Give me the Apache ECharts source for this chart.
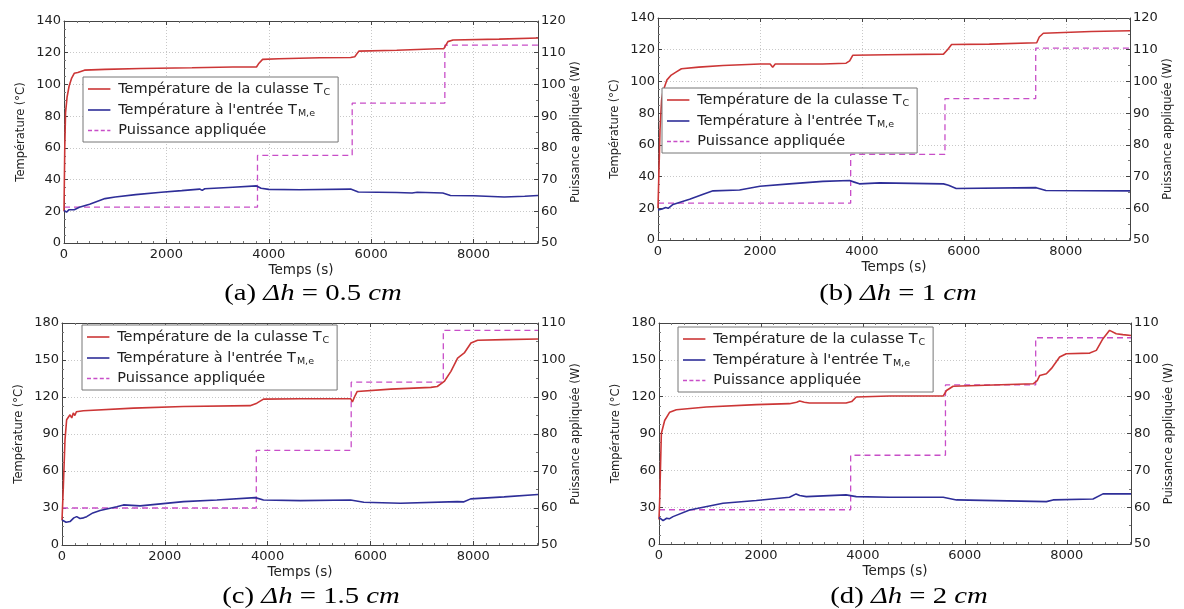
<!DOCTYPE html>
<html><head><meta charset="utf-8">
<script src="https://cdn.jsdelivr.net/npm/echarts@6/dist/echarts.min.js"></script>
<style>html,body{margin:0;padding:0;background:#fff}#c{width:1184px;height:609px}</style>
</head><body><div id="c"></div>
<script>
// ---------- data (time in s, temperature in °C, power in W) ----------
const tcA = [[0,20],[15,60],[30,82],[60,92],[100,99],[150,104],[200,107],[230,106],[270,107.5],[400,109],[800,109.5],[1500,110],[2500,110.5],[3300,111],[3760,111],[3800,113],[3880,115.8],[4200,116.2],[5000,116.8],[5600,117],[5680,117.5],[5760,121],[6500,121.6],[7300,122.5],[7420,122.6],[7500,127],[7600,128],[8500,128.6],[9260,129.3]];
const tmA = [[0,20.5],[50,19.5],[100,21],[200,21],[300,22.5],[500,24.5],[800,28],[1000,29],[1400,30.5],[1900,32],[2300,33],[2650,34],[2700,33.2],[2750,34.2],[3300,35.2],[3760,36],[3850,34.5],[4000,33.8],[4600,33.6],[5600,34],[5750,32.2],[6500,31.8],[6800,31.5],[6900,32],[7400,31.5],[7550,30],[8000,29.8],[8600,29],[9000,29.5],[9260,30]];
const pwA = [[0,61.3],[3780,77.6],[5630,94.1],[7440,112.4],[9260,112.4]];

const tcB = [[0,20],[20,45],[40,70],[70,88],[100,94],[176,101],[260,104],[360,106],[460,108],[800,109],[1275,110],[2000,111],[2200,111],[2250,109],[2300,111],[3230,111],[3690,111.5],[3760,113],[3820,116.5],[4500,116.8],[5600,117.2],[5680,120],[5760,123.3],[6500,123.5],[7430,124.4],[7480,128],[7560,130.4],[8500,131.5],[9260,132]];
const tmB = [[0,19],[80,19.5],[150,20.5],[200,20],[294,22.4],[620,25.7],[900,29],[1080,31],[1600,31.5],[2000,33.9],[2580,35.4],[3235,37],[3760,37.5],[3850,36.5],[3950,35.4],[4350,36],[5600,35.4],[5700,34.5],[5850,32.5],[7420,33],[7610,31.2],[9260,31]];
const pwB = [[0,61.6],[3780,77],[5630,94.6],[7410,110.5],[9260,110.5]];

const tcC = [[0,20],[26,47],[58,85],[90,101.5],[156,105.6],[190,103],[220,107],[250,105],[280,108],[415,108.8],[1390,111],[2360,112.3],[3660,113],[3790,115],[3920,118.3],[4640,118.6],[5615,118.6],[5650,116],[5700,121],[5744,124.5],[6395,126.4],[7176,127.8],[7300,128.5],[7436,132.6],[7566,140.8],[7696,151.6],[7826,155.7],[7956,163.8],[8086,166],[8606,166.5],[9260,167]];
const tmC = [[0,20.3],[80,18.5],[156,19],[230,22],[286,23],[350,21.5],[420,22],[480,23],[600,26],[740,27.9],[1065,31],[1195,32.5],[1520,31.7],[2364,35.2],[3013,36.5],[3760,38.4],[3920,36.5],[4636,36],[5614,36.5],[5872,34.7],[6587,33.8],[7690,35.2],[7820,35],[7950,37.4],[8600,39],[9260,41]];
const pwC = [[0,60],[3780,75.6],[5626,94],[7418,108],[9260,108]];

const tcD = [[0,20],[13,35],[46,90],[111,100.6],[210,107.4],[340,109.4],[928,111.6],[1908,113.5],[2560,114.3],[2700,115.5],[2760,116.4],[2850,115.5],[2950,114.8],[3670,114.8],[3780,116],[3870,119.7],[4520,120.5],[5575,120.5],[5640,125],[5770,128.5],[7340,130.5],[7420,133],[7470,137.3],[7600,138.7],[7700,143],[7860,152.3],[7990,155],[8450,155.5],[8580,157.7],[8710,167.2],[8840,174],[8970,171.2],[9100,170.5],[9260,169.8]];
const tmD = [[0,21.7],[80,19],[150,21],[200,20.5],[275,22.3],[600,27.7],[1255,33.2],[1908,35.4],[2560,38.1],[2690,40.8],[2760,39.5],[2890,38.6],[3670,40],[3870,38.6],[4520,38.1],[5575,38.1],[5836,35.9],[7600,34.5],[7730,35.9],[8515,36.7],[8710,40.8],[9260,40.8]];
const pwD = [[0,59.3],[3760,74.1],[5620,93.2],[7390,106],[9260,106]];

const tempRanges = [[0,140,20],[0,140,20],[0,180,30],[0,180,30]];
const powRanges  = [[50,120,10],[50,120,10],[50,110,10],[50,110,10]];
const timeRange = [0, 9260, 2000];
const captions = [['(a)','0.5'],['(b)','1'],['(c)','1.5'],['(d)','2']];
const names = ['Température de la culasse T_C', "Température à l'entrée T_M,e", 'Puissance appliquée'];
const legendLabels = {
  'Température de la culasse T_C': 'Température de la culasse T{sub|C}',
  "Température à l'entrée T_M,e": "Température à l'entrée T{sub|M,e}",
  'Puissance appliquée': 'Puissance appliquée'
};
const panels = [[tcA,tmA,pwA],[tcB,tmB,pwB],[tcC,tmC,pwC],[tcD,tmD,pwD]];

// ---------- layout ----------
const grids = [
  {left:64, top:21, width:474, height:222},
  {left:658, top:18, width:472, height:222},
  {left:62, top:323, width:476, height:222},
  {left:659, top:323, width:472, height:221}
];
const legendPos = [[83,77],[662,88],[82,325],[678,327]];
const captionPos = [[313,294],[898,294],[311,597],[909,597]];

const FONT = 'DejaVu Sans';
const axisCol = '#444';
const gridLine = {show:true, lineStyle:{color:'#c8c8c8', type:[1,2], width:1}};
const lblStyle = {color:'#222', fontFamily:FONT, fontSize:13};
const solidIcon = 'path://M0,0h28v2h-28z';
const dashIcon = 'path://M0,0h5v2h-5zM8,0h5v2h-5zM16,0h5v2h-5zM24,0h4v2h-4z';

const xAxes = [], yAxes = [], series = [], legends = [], graphics = [];
grids.forEach((g, i) => {
  xAxes.push({
    type:'value', gridIndex:i, position:'bottom', min:timeRange[0], max:timeRange[1], interval:timeRange[2],
    name:'Temps (s)', nameLocation:'middle', nameGap:20,
    nameTextStyle:{color:'#222', fontFamily:FONT, fontSize:13.5},
    axisLine:{show:true, onZero:false, lineStyle:{color:axisCol}},
    axisTick:{inside:true, length:4, lineStyle:{color:axisCol}},
    minorTick:{show:true, splitNumber:8, length:2, lineStyle:{color:'#777'}},
    axisLabel:{...lblStyle, margin:5, showMaxLabel:false, formatter: v => String(v)},
    splitLine:gridLine
  });
});
grids.forEach((g, i) => {
  xAxes.push({
    type:'value', gridIndex:i, position:'top', min:timeRange[0], max:timeRange[1], interval:timeRange[2],
    axisLine:{show:true, onZero:false, lineStyle:{color:axisCol}},
    axisTick:{inside:true, length:4, lineStyle:{color:axisCol}},
    minorTick:{show:true, splitNumber:8, length:2, lineStyle:{color:'#777'}},
    axisLabel:{show:false}, splitLine:{show:false}
  });
});
grids.forEach((g, i) => {
  const tr = tempRanges[i], pr = powRanges[i];
  yAxes.push({
    type:'value', gridIndex:i, position:'left', min:tr[0], max:tr[1], interval:tr[2],
    name:'Température (°C)', nameLocation:'middle', nameGap:37, nameRotate:90,
    nameTextStyle:{color:'#222', fontFamily:FONT, fontSize:11.5},
    axisLine:{show:true, onZero:false, lineStyle:{color:axisCol}},
    axisTick:{inside:true, length:4, lineStyle:{color:axisCol}},
    minorTick:{show:true, splitNumber:4, length:2, lineStyle:{color:'#777'}},
    axisLabel:{...lblStyle, margin:3},
    splitLine:gridLine
  });
  yAxes.push({
    type:'value', gridIndex:i, position:'right', min:pr[0], max:pr[1], interval:pr[2],
    name:'Puissance appliquée (W)', nameLocation:'middle', nameGap:30, nameRotate:90,
    nameTextStyle:{color:'#222', fontFamily:FONT, fontSize:11.5},
    axisLine:{show:true, onZero:false, lineStyle:{color:axisCol}},
    axisTick:{inside:true, length:4, lineStyle:{color:axisCol}},
    minorTick:{show:true, splitNumber:2, length:2, lineStyle:{color:'#777'}},
    axisLabel:{...lblStyle, margin:3},
    splitLine:{show:false}
  });
  const [tc, tm, pw] = panels[i];
  series.push({
    name:names[0], type:'line', xAxisIndex:i, yAxisIndex:2*i, data:tc,
    showSymbol:false, symbol:'none', lineStyle:{color:'#cc3636', width:1.6}, itemStyle:{color:'#cc3636'},
    z:3
  });
  series.push({
    name:names[1], type:'line', xAxisIndex:i, yAxisIndex:2*i, data:tm,
    showSymbol:false, symbol:'none', lineStyle:{color:'#2e2e98', width:1.6}, itemStyle:{color:'#2e2e98'},
    z:3
  });
  series.push({
    name:names[2], type:'line', step:'end', xAxisIndex:i, yAxisIndex:2*i+1, data:pw,
    showSymbol:false, symbol:'none', lineStyle:{color:'#c84ec8', width:1.3, type:[6,4]}, itemStyle:{color:'#c84ec8'},
    z:2
  });
  legends.push({
    left:legendPos[i][0], top:legendPos[i][1], orient:'vertical',
    data:[{name:names[0], icon:solidIcon},{name:names[1], icon:solidIcon},{name:names[2], icon:dashIcon}],
    itemWidth:28, itemHeight:1.6, itemGap:3,
    padding:[3,8,3,5], backgroundColor:'#fff', borderColor:'#777', borderWidth:1, borderRadius:0,
    selectedMode:false,
    formatter: n => legendLabels[n],
    textStyle:{color:'#222', fontFamily:FONT, fontSize:14.5, lineHeight:17,
      rich:{sub:{fontFamily:FONT, fontSize:9.5, lineHeight:9, padding:[8,0,0,1], color:'#222'}}}
  });
  const c = captions[i];
  graphics.push({
    type:'text', x:captionPos[i][0], y:captionPos[i][1], scaleX:1.25,
    style:{
      text:'{n|' + c[0] + ' }{i|Δh}{n| = ' + c[1] + ' }{i|cm}',
      align:'center', verticalAlign:'middle',
      rich:{
        n:{fontFamily:'Liberation Serif', fontSize:23, color:'#111'},
        i:{fontFamily:'Liberation Serif', fontSize:23, fontStyle:'italic', color:'#111'}
      }
    }
  });
});

const chart = echarts.init(document.getElementById('c'), null, {renderer:'canvas'});
chart.setOption({
  backgroundColor:'#fff',
  animation:false,
  grid:grids,
  xAxis:xAxes, yAxis:yAxes, series:series, legend:legends,
  graphic:graphics
});
</script></body></html>
